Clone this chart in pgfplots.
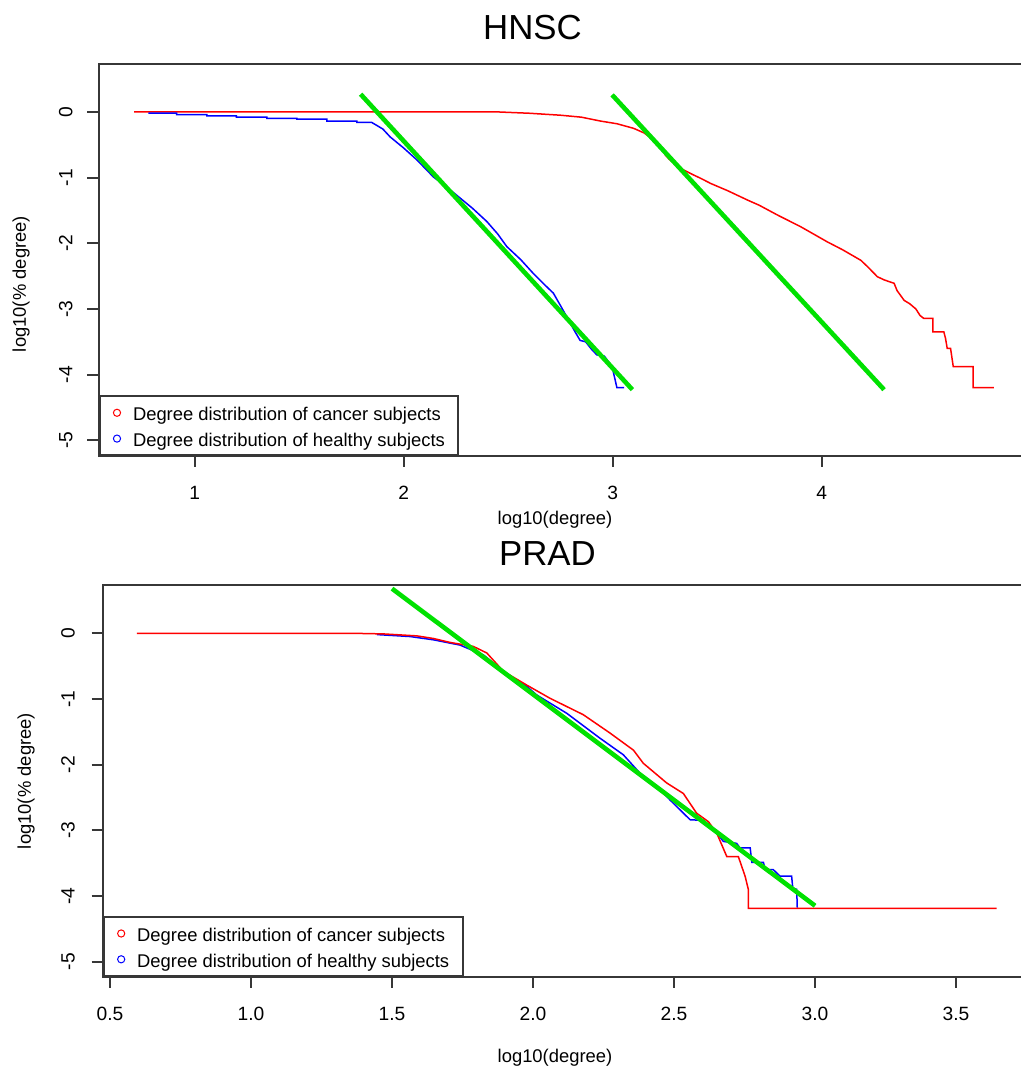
\documentclass[border=0pt]{standalone}
\usepackage{pgfplots}
\pgfplotsset{compat=1.18}
\usepackage{fontspec}
\setmainfont{Liberation Sans}
\definecolor{rgreen}{RGB}{0,225,0}
\definecolor{boxc}{RGB}{55,55,55}
\pgfplotsset{
  rstyle/.style={
    scale only axis,
    axis line style={boxc, line width=1pt},
    tick style={boxc, line width=1pt},
    tick align=outside,
    major tick length=5.5pt,
    tick pos=left,
    xticklabel style={font=\fontsize{9.6}{11}\selectfont, inner sep=0pt, anchor=north},
    yticklabel style={font=\fontsize{9.6}{11}\selectfont, inner sep=0pt, rotate=90, anchor=south},
    legend cell align=left,
    legend image code/.code={\path[draw=none,fill=none] (0pt,-3pt) rectangle (10pt,3pt); \draw[#1, only marks, mark=o, mark size=1.8pt, line width=0.5pt] plot coordinates {(4pt,0pt)};},
    legend style={at={(0,0)}, anchor=south west, draw=boxc, line width=1pt, fill=white,
      font=\fontsize{9.2}{11}\selectfont, inner xsep=4.75pt, inner ysep=0.75pt, row sep=-2pt,
      nodes={text height=9.4pt}},
  },
  cline/.style={red, line width=0.75pt, sharp plot},
  hline/.style={blue, line width=0.75pt, sharp plot},
  gline/.style={rgreen, line width=2.3pt, sharp plot},
}
\begin{document}
\begin{tikzpicture}[x=1pt,y=1pt]
\useasboundingbox (0,0) rectangle (510.5,536);
\clip (0,0) rectangle (510.5,536);
% ---------------- HNSC ----------------
\begin{axis}[rstyle,
  at={(49.25pt,308pt)}, anchor=south west,
  width=468.25pt, height=196pt,
  xmin=0.54, xmax=5.02, ymin=-5.24, ymax=0.73,
  xtick={1,2,3,4}, xticklabels={1,2,3,4},
  ytick={-5,-4,-3,-2,-1,0}, yticklabels={-5,-4,-3,-2,-1,0},
  xticklabel shift=9.5pt, yticklabel shift=7.3pt,
]
\addlegendimage{red, only marks}
\addlegendentry{Degree distribution of cancer subjects}
\addlegendimage{blue, only marks}
\addlegendentry{Degree distribution of healthy subjects}
\addplot[cline] coordinates {
(0.71,0) (2.45,0) (2.60,-0.02) (2.75,-0.05) (2.85,-0.08) (2.943,-0.14) (3.02,-0.18)
(3.10,-0.25) (3.15,-0.32) (3.18,-0.39) (3.21,-0.45) (3.235,-0.55) (3.25,-0.65)
(3.27,-0.72) (3.30,-0.80) (3.325,-0.86) (3.38,-0.95) (3.42,-1.01) (3.469,-1.09)
(3.55,-1.20) (3.65,-1.35) (3.70,-1.42) (3.788,-1.57) (3.90,-1.75) (4.027,-1.98)
(4.10,-2.10) (4.187,-2.26) (4.22,-2.36) (4.266,-2.51) (4.30,-2.56) (4.346,-2.61)
(4.36,-2.72) (4.394,-2.87) (4.42,-2.92) (4.45,-3.00) (4.47,-3.10) (4.488,-3.145)
(4.531,-3.145) (4.531,-3.35) (4.584,-3.35) (4.592,-3.45) (4.60,-3.60) (4.616,-3.60)
(4.629,-3.88) (4.724,-3.88) (4.724,-4.197) (4.823,-4.197)
};
\addplot[hline] coordinates {
(0.778,-0.02) (0.914,-0.02) (0.914,-0.04) (1.058,-0.04) (1.058,-0.06) (1.20,-0.06)
(1.20,-0.08) (1.345,-0.08) (1.345,-0.10) (1.489,-0.10) (1.489,-0.11) (1.632,-0.11)
(1.632,-0.14) (1.776,-0.14) (1.776,-0.16) (1.847,-0.16) (1.90,-0.26) (1.935,-0.38)
(2.00,-0.55) (2.063,-0.73) (2.142,-0.99) (2.20,-1.13) (2.254,-1.27) (2.33,-1.47)
(2.398,-1.67) (2.45,-1.86) (2.493,-2.05) (2.56,-2.25) (2.62,-2.46) (2.68,-2.65)
(2.716,-2.76) (2.75,-2.95) (2.78,-3.12) (2.82,-3.35) (2.844,-3.48) (2.87,-3.50)
(2.90,-3.62) (2.924,-3.70) (2.96,-3.72) (2.997,-3.88) (3.02,-4.2) (3.054,-4.2)
};
\addplot[gline] coordinates {(1.794,0.27) (3.094,-4.23)};
\addplot[gline] coordinates {(2.997,0.26) (4.298,-4.23)};
\end{axis}
% ---------------- PRAD ----------------
\begin{axis}[rstyle,
  at={(51.35pt,47.65pt)}, anchor=south west,
  width=466.15pt, height=195.85pt,
  xmin=0.474, xmax=3.78, ymin=-5.23, ymax=0.735,
  xtick={0.5,1,1.5,2,2.5,3,3.5}, xticklabels={0.5,1.0,1.5,2.0,2.5,3.0,3.5},
  ytick={-5,-4,-3,-2,-1,0}, yticklabels={-5,-4,-3,-2,-1,0},
  xticklabel shift=9.5pt, yticklabel shift=8.3pt,
]
\addlegendimage{red, only marks}
\addlegendentry{Degree distribution of cancer subjects}
\addlegendimage{blue, only marks}
\addlegendentry{Degree distribution of healthy subjects}
\addplot[hline] coordinates {
(1.446,-0.02) (1.564,-0.05) (1.647,-0.10) (1.741,-0.18) (1.824,-0.33) (1.895,-0.58)
(1.978,-0.81) (2.013,-0.94) (2.120,-1.22) (2.238,-1.60) (2.320,-1.85) (2.379,-2.13)
(2.439,-2.33) (2.486,-2.54) (2.557,-2.84) (2.604,-2.85) (2.628,-2.97) (2.651,-3.04)
(2.675,-3.17) (2.722,-3.20) (2.734,-3.27) (2.770,-3.27) (2.776,-3.49) (2.817,-3.49)
(2.823,-3.60) (2.852,-3.60) (2.876,-3.70) (2.917,-3.70) (2.921,-3.88) (2.935,-3.90)
(2.937,-4.18)
};
\addplot[cline] coordinates {
(0.595,0) (1.351,0) (1.469,-0.01) (1.588,-0.04) (1.647,-0.08) (1.706,-0.14)
(1.788,-0.20) (1.836,-0.30) (1.895,-0.58) (1.978,-0.79) (2.060,-0.99) (2.178,-1.24)
(2.273,-1.52) (2.356,-1.78) (2.391,-1.98) (2.474,-2.28) (2.533,-2.44) (2.580,-2.74)
(2.622,-2.87) (2.651,-3.04) (2.687,-3.40) (2.728,-3.40) (2.752,-3.70) (2.764,-3.91)
(2.764,-4.19) (3.644,-4.19)
};
\addplot[gline] coordinates {(1.50,0.68) (3.0,-4.15)};
\end{axis}
% ---------------- titles and labels ----------------
\node[font=\fontsize{17.4}{20}\selectfont] at (266.25,522) {HNSC};
\node[font=\fontsize{17.4}{20}\selectfont] at (273.75,259) {PRAD};
\node[font=\fontsize{9.2}{11}\selectfont] at (277.5,276) {log10(degree)};
\node[font=\fontsize{9.2}{11}\selectfont] at (277.5,7) {log10(degree)};
\node[font=\fontsize{9.2}{11}\selectfont, rotate=90] at (10.5,394) {log10(\% degree)};
\node[font=\fontsize{9.2}{11}\selectfont, rotate=90] at (13,145.5) {log10(\% degree)};
\end{tikzpicture}
\end{document}
